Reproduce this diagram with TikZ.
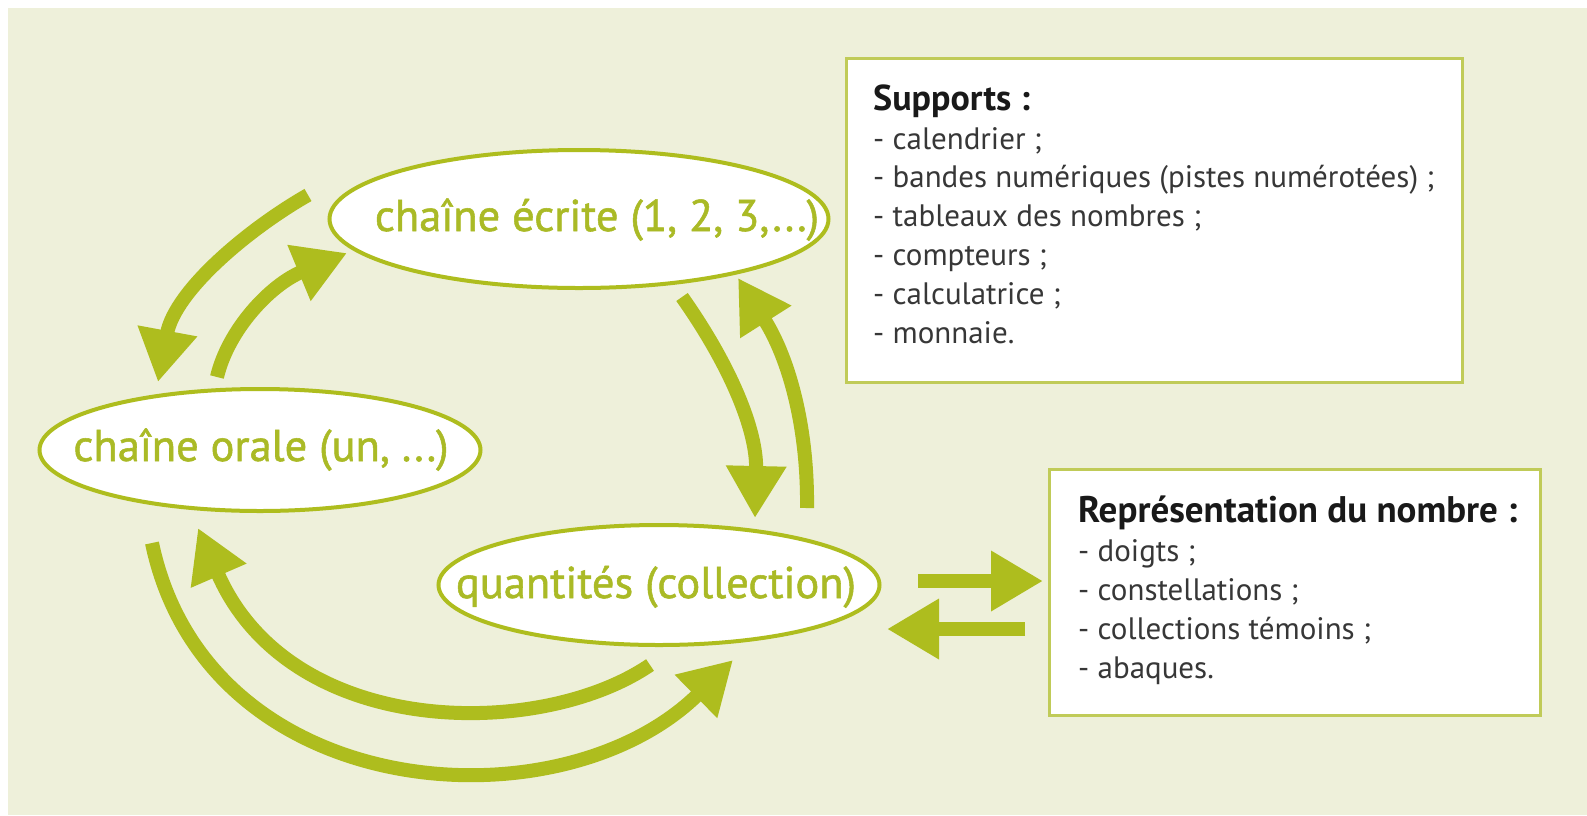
\documentclass[tikz,border=0pt]{standalone}
\usepackage{fontspec}
\setmainfont{PT Sans}
\newfontfamily\ellfont[FakeBold=1.2]{PT Sans}
\usetikzlibrary{arrows.meta,shapes.geometric}
\definecolor{bgc}{RGB}{238,240,218}
\definecolor{ag}{RGB}{174,189,30}
\definecolor{tg}{RGB}{170,186,38}
\definecolor{bx}{RGB}{192,203,88}
\definecolor{tx}{RGB}{55,55,55}
\definecolor{hx}{RGB}{25,25,25}
\begin{document}
\begin{tikzpicture}[x=1pt,y=-1pt,
  ell/.style={ellipse, draw=ag, line width=4pt, fill=white, inner sep=0pt},
  elltext/.style={text=tg, font=\ellfont\fontsize{44.5}{44.5}\selectfont, anchor=base, inner sep=0pt},
  box/.style={draw=bx, line width=3pt, fill=white, anchor=north west, inner sep=0pt},
  boxtext/.style={anchor=base west, inner sep=0pt, align=left, text=tx, font=\fontsize{31}{38.8}\selectfont},
  arr/.style={draw=ag, line width=14pt, -{Triangle[length=52pt,width=57pt]}},
]
\useasboundingbox (0,0) rectangle (1587,815);
\fill[white] (0,0) rectangle (1587,815);
\fill[bgc] (8,8) rectangle (1587,815);

% boxes
\node[box, minimum width=616pt, minimum height=324pt] (S) at (845,57) {};
\node[boxtext] (St) at (873,343) {{\fontsize{36}{38.8}\selectfont\bfseries\color{hx}Supports :}\\
- calendrier ;\\
- bandes numériques (pistes numérotées) ;\\
- tableaux des nombres ;\\
- compteurs ;\\
- calculatrice ;\\
- monnaie.};

\node[box, minimum width=491pt, minimum height=246pt] (R) at (1048,468) {};
\node[boxtext] (Rt) at (1078,678) {{\fontsize{37}{38.8}\selectfont\bfseries\color{hx}Représentation du nombre :}\\
- doigts ;\\
- constellations ;\\
- collections témoins ;\\
- abaques.};

% ellipses
\node[ell, minimum width=499pt, minimum height=138pt] (E) at (579,219) {};
\node[elltext] (Et) at (597,231) {chaîne écrite (1, 2, 3,...)};
\node[ell, minimum width=441pt, minimum height=122pt] (O) at (260,450) {};
\node[elltext] (Ot) at (261,461) {chaîne orale (un, ...)};
\node[ell, minimum width=441pt, minimum height=120pt] (Q) at (659,585) {};
\node[elltext] (Qt) at (656,598) {quantités (collection)};

% arrow end points
\coordinate (a1s) at (308,195); \coordinate (a1e) at (158,382);
\coordinate (a2s) at (217,377); \coordinate (a2e) at (347,253);
\coordinate (a3s) at (682,297); \coordinate (a3e) at (755,518);
\coordinate (a4s) at (807,508); \coordinate (a4e) at (738,278);
\coordinate (a5s) at (650,665); \coordinate (a5e) at (198,528);
\coordinate (a6s) at (152,543); \coordinate (a6e) at (733,660);
\coordinate (a7s) at (918,581); \coordinate (a7e) at (1043,581);
\coordinate (a8s) at (1025,629); \coordinate (a8e) at (887,629);

\draw[arr] (a1s) .. controls (250,228) and (175,290) .. (a1e);
\draw[arr] (a2s) .. controls (228,330) and (270,285) .. (a2e);
\draw[arr] (a3s) .. controls (730,365) and (757,430) .. (a3e);
\draw[arr] (a4s) .. controls (808,430) and (790,360) .. (a4e);
\draw[arr] (a5s) .. controls (540,740) and (290,740) .. (a5e);
\draw[arr] (a6s) .. controls (207,805) and (560,830) .. (a6e);
\draw[arr] (a7s) -- (a7e);
\draw[arr] (a8s) -- (a8e);
\end{tikzpicture}
\end{document}
